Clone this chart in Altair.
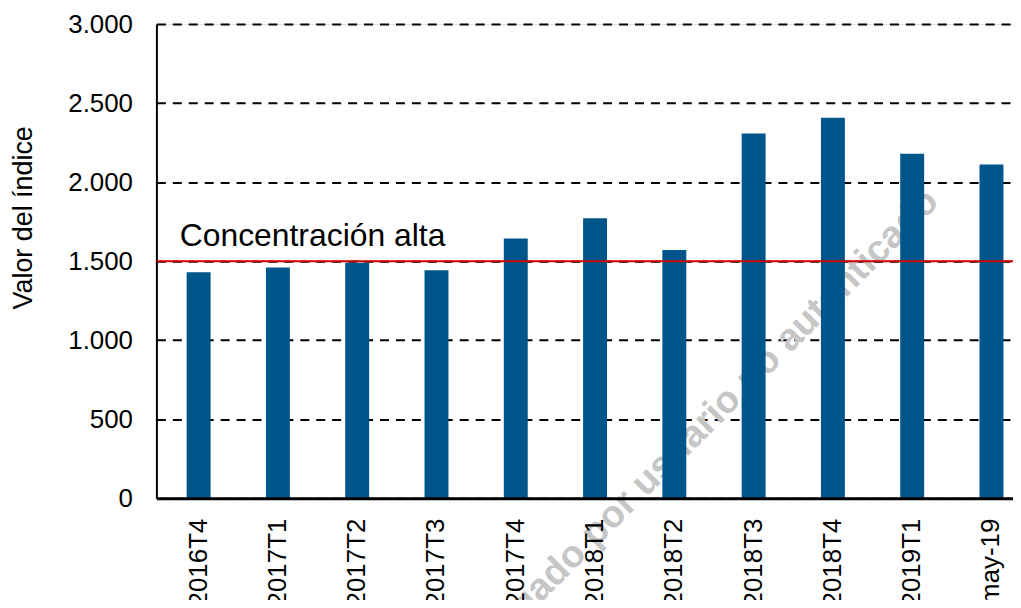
import altair as alt
import pandas as pd

categories = ["2016T4", "2017T1", "2017T2", "2017T3", "2017T4", "2018T1",
              "2018T2", "2018T3", "2018T4", "2019T1", "may-19"]
values = [1430, 1460, 1490, 1443, 1643, 1771, 1571, 2308, 2407, 2180, 2111]
y_ticks = [0, 500, 1000, 1500, 2000, 2500, 3000]
threshold = 1500
threshold_label = "Concentración alta"
y_title = "Valor del índice"
title_text = "depósitos"
watermark_text = "Documento descargado por usuario no autenticado"
watermark_at = "2019T1"
watermark_value = 1651

FONT = "Liberation Sans"

df = pd.DataFrame({"periodo": categories, "valor": values})

x_scale = alt.Scale(paddingInner=0.698, paddingOuter=0.251, align=0.76)

x_enc = alt.X(
    "periodo:N", sort=categories, title=None, scale=x_scale,
    axis=alt.Axis(labelAngle=270, labelAlign="right", labelBaseline="middle",
                  labelFont=FONT, labelFontSize=26, labelColor="black",
                  labelPadding=20, ticks=False, domainColor="black",
                  domainWidth=3, grid=False, zindex=1, labelOverlap=False),
)

y_enc = alt.Y(
    "valor:Q", title=y_title,
    scale=alt.Scale(domain=[0, 3000], nice=False),
    axis=alt.Axis(values=y_ticks,
                  labelExpr="replace(format(datum.value, ','), ',', '.')",
                  labelFont=FONT, labelFontSize=26, labelColor="black",
                  labelPadding=24, ticks=False, domainColor="black",
                  domainWidth=2, grid=True, gridColor="black",
                  gridDash=[9, 7], gridWidth=2,
                  titleFont=FONT, titleFontSize=27, titleFontWeight="normal",
                  titleColor="black", titleAngle=270, titleX=-125, titleY=194,
                  titleAlign="center", titleBaseline="alphabetic"),
)

wm_df = pd.DataFrame({"periodo": [watermark_at], "valor": [watermark_value],
                      "label": [watermark_text]})
watermark = alt.Chart(wm_df).mark_text(
    angle=315, align="right", baseline="alphabetic", dx=44, dy=-4,
    font=FONT, fontSize=38, fontWeight="bold", color="#c6c6c6",
).encode(
    x=alt.X("periodo:N", sort=categories, scale=x_scale),
    y=alt.Y("valor:Q"),
    text="label:N",
)

bars = alt.Chart(df).mark_bar(color="#00558B").encode(x=x_enc, y=y_enc)

th_df = pd.DataFrame({"valor": [threshold]})
rule = alt.Chart(th_df).mark_rule(color="#CC0000", strokeWidth=2).encode(
    y=alt.Y("valor:Q")
)

lab_df = pd.DataFrame({"periodo": [categories[0]], "valor": [threshold],
                       "label": [threshold_label]})
label = alt.Chart(lab_df).mark_text(
    align="left", baseline="alphabetic", dx=-19, dy=-15,
    font=FONT, fontSize=32, color="black",
).encode(
    x=alt.X("periodo:N", sort=categories),
    y=alt.Y("valor:Q"),
    text="label:N",
)

chart = alt.layer(watermark, bars, rule, label).properties(
    width=860,
    height=476,
    autosize=alt.AutoSizeParams(type="none"),
    padding={"left": 149, "top": 15, "right": 0, "bottom": 101},
    title=alt.TitleParams(text=title_text, font=FONT, fontSize=34,
                          fontWeight="bold", color="black", offset=12,
                          anchor="middle"),
).configure_view(stroke="transparent").configure(font=FONT, background="white")

chart.save("out.html", embed_options={"renderer": "svg", "actions": False})
